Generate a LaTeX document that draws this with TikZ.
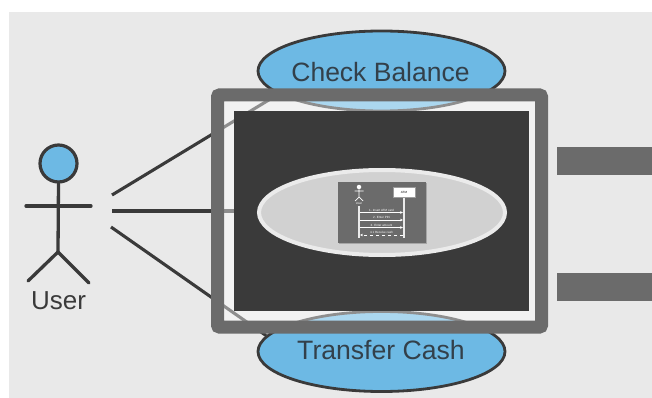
\documentclass[tikz,border=0pt]{standalone}
\usepackage{fontspec}
\setmainfont{Liberation Sans}
\usetikzlibrary{shapes.geometric,arrows.meta}
\definecolor{bgc}{HTML}{E9E9E9}
\definecolor{framec}{HTML}{6B6B6B}
\definecolor{darkc}{HTML}{3A3A3A}
\definecolor{bluec}{HTML}{6DB9E4}
\definecolor{inkc}{HTML}{33404A}
\tikzset{
  box/.style={rectangle,inner sep=0pt,outer sep=0pt},
  usecase/.style={ellipse,draw=darkc,line width=2.8pt,fill=bluec,minimum width=247pt,minimum height=80pt,inner sep=0pt,outer sep=0pt},
  caselabel/.style={inner sep=0pt,text=inkc,font=\fontsize{26.5}{28}\selectfont},
  assoc/.style={draw=darkc,line width=3.1pt},
  limb/.style={draw=darkc,line width=3.3pt,line cap=round},
  bar/.style={box,fill=framec,minimum width=95pt,minimum height=28pt,anchor=west},
  mini/.style={white,line width=.7pt,-{Stealth[length=3pt,width=2.6pt]}},
  minilife/.style={draw=white!92!black,line width=2pt},
  minitext/.style={text=white,inner sep=0pt,font=\fontsize{3}{3}\selectfont}
}
\begin{document}
\begin{tikzpicture}[x=1pt,y=-1pt]
\useasboundingbox (0,0) rectangle (652,398);
\fill[bgc] (9,12) rectangle (652,398);
% use cases
\node[usecase] (check) at (381.5,71) {};
\node[usecase] (transfer) at (381.5,351.5) {};
\node[caselabel] (checkt) at (380.5,72.5) {Check Balance};
\node[caselabel,font=\fontsize{26.6}{28}\selectfont] (transfert) at (381,350) {Transfer Cash};
% actor
\node[circle,draw=darkc,fill=bluec,line width=3.2pt,minimum size=37pt,inner sep=0pt,outer sep=0pt] (head) at (58.5,163.5) {};
\coordinate (hip) at (58,252);
\coordinate (armL) at (26,206);
\coordinate (armR) at (91,206);
\coordinate (footL) at (28,281);
\coordinate (footR) at (89,283);
\draw[limb,line cap=butt] (head.south) -- (hip);
\draw[limb] (armL) -- (armR);
\draw[limb] (footL) -- (hip) -- (footR);
\node[inner sep=0pt,text=darkc,font=\fontsize{26}{28}\selectfont] (user) at (58.5,301) {User};
% connectors
\coordinate (a1) at (112,195);
\coordinate (a2) at (112,211);
\coordinate (a3) at (111,227);
\coordinate (e1) at (278,94.4);
\coordinate (e3) at (266,335.5);
\coordinate (sysw) at (240,211);
\draw[assoc] (a1) -- (e1);
\draw[assoc] (a2) -- (sysw);
\draw[assoc] (a3) -- (e3);
% system
\node[box,fill=white,fill opacity=.43,minimum width=312pt,minimum height=220pt] (veil) at (379.5,211) {};
\node[box,draw=framec,line width=13pt,rounded corners=2pt,minimum width=324pt,minimum height=232pt] (frame) at (379.5,211) {};
\node[box,fill=darkc,minimum width=295pt,minimum height=200pt] (dark) at (381.5,211) {};
\node[ellipse,draw=white!92!black,fill=black!18,line width=4pt,minimum width=246pt,minimum height=85pt,inner sep=0pt,outer sep=0pt] (mid) at (382,212.5) {};
% miniature
\node[box,fill=black!35,minimum width=88pt,minimum height=61pt] (thumbshadow) at (383,213.5) {};
\node[box,fill=framec,minimum width=88pt,minimum height=61pt] (thumb) at (382,212.5) {};
\node[box,draw=darkc!50!white,fill=white,line width=.3pt,minimum width=22pt,minimum height=10pt,font=\fontsize{3}{3}\selectfont] (atm) at (404,192.5) {ATM};
\node[circle,fill=white,minimum size=4.5pt,inner sep=0pt] (mhead) at (359,187) {};
\draw[white,line width=.7pt] (mhead) -- (359,197) (354.5,191) -- (363.5,191) (355,201) -- (359,197) -- (363,201);
\node[minitext] (muser) at (359,203) {User};
\coordinate (ut) at (359,206);
\coordinate (ub) at (359,238);
\coordinate (at) at (404,238);
\draw[minilife] (ut) -- (ub);
\draw[minilife] (atm) -- (at);
\coordinate (u1) at (360,212.5); \coordinate (t1) at (403,212.5);
\coordinate (u2) at (360,220); \coordinate (t2) at (403,220);
\coordinate (u3) at (360,227.5); \coordinate (t3) at (403,227.5);
\coordinate (u4) at (360,235); \coordinate (t4) at (403,235);
\draw[mini] (u1) -- node[minitext,above=.7pt] {1. Insert ATM card} (t1);
\draw[mini] (u2) -- node[minitext,above=.7pt] {2. Enter PIN} (t2);
\draw[mini] (u3) -- node[minitext,above=.7pt] {3. Enter amount} (t3);
\draw[mini,dashed] (t4) -- node[minitext,above=.7pt] {4.1 Receive cash} (u4);
% right bars
\node[bar] (bar1) at (557,161) {};
\node[bar] (bar2) at (557,287) {};
\end{tikzpicture}
\end{document}
